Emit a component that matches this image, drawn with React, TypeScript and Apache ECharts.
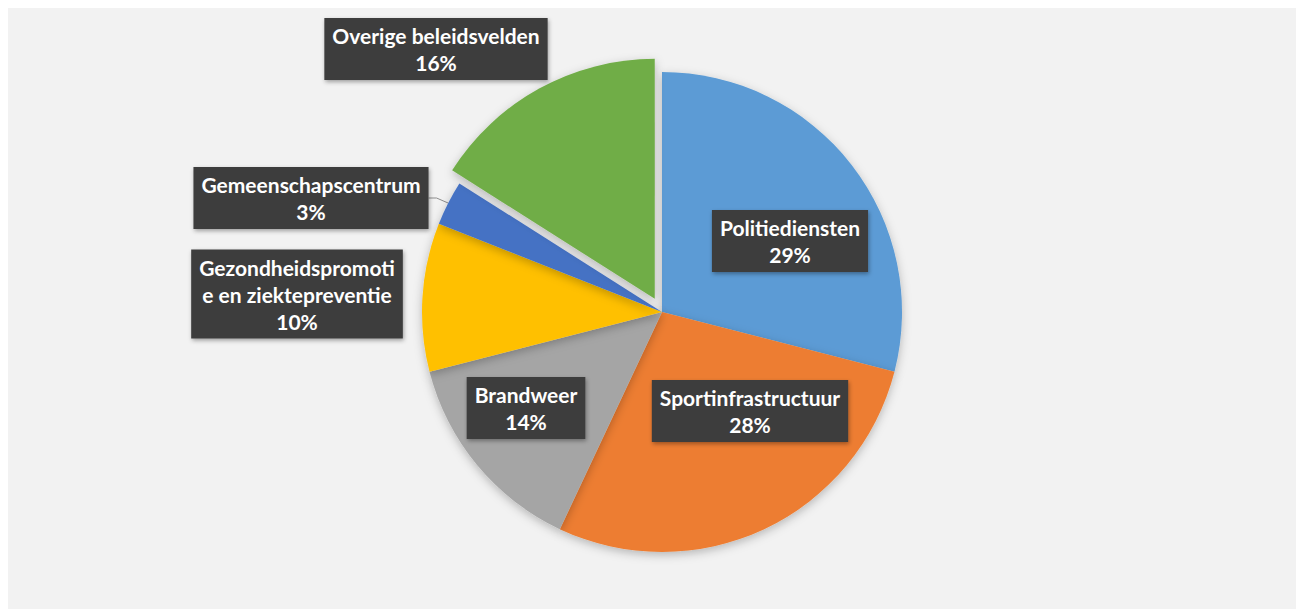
import React, { useEffect, useRef } from "react";
import * as echarts from "echarts";

const categories = [
  "Politiediensten",
  "Sportinfrastructuur",
  "Brandweer",
  "Gezondheidspromotie en ziektepreventie",
  "Gemeenschapscentrum",
  "Overige beleidsvelden",
];
const labelTexts = [
  "Politiediensten",
  "Sportinfrastructuur",
  "Brandweer",
  "Gezondheidspromoti\ne en ziektepreventie",
  "Gemeenschapscentrum",
  "Overige beleidsvelden",
];
const values = [29, 28, 14, 10, 3, 16];
const colors = ["#5b9bd5", "#ed7d31", "#a5a5a5", "#ffc000", "#4472c4", "#70ad47"];
const explodedIndex = 5;
const labelCenters = [
  [782, 233],
  [742, 403],
  [518, 400],
  [289, 286],
  [303, 190],
  [428, 41],
];

const CX = 654;
const CY = 304;
const R = 240;
const OFFSET = 15;

export default function App() {
  const ref = useRef<HTMLDivElement>(null);
  useEffect(() => {
    if (!ref.current) return;
    const chart = echarts.init(ref.current, null, { renderer: "svg" });
    const total = values.reduce((a, b) => a + b, 0);
    const before = values.slice(0, explodedIndex).reduce((a, b) => a + b, 0);
    const midFrac = (before + values[explodedIndex] / 2) / total;
    const ang = midFrac * Math.PI * 2;
    const dx = OFFSET * Math.sin(ang);
    const dy = -OFFSET * Math.cos(ang);

    const labelBase = {
      show: true,
      position: "outside",
      formatter: (p: any) => labelTexts[p.dataIndex] + "\n" + p.value + "%",
      color: "#ffffff",
      fontFamily: "Lato",
      fontWeight: "bold",
      fontSize: 21,
      lineHeight: 27,
      align: "center",
      backgroundColor: "#3d3d3d",
      padding: [4, 8, 4, 8],
      shadowBlur: 4,
      shadowOffsetX: 1,
      shadowOffsetY: 2,
      shadowColor: "rgba(0,0,0,0.35)",
    };
    const layout = (params: any) => {
      const c = labelCenters[params.dataIndex];
      return { x: c[0], y: c[1], align: "center", verticalAlign: "middle" };
    };
    const common = {
      type: "pie",
      radius: R,
      startAngle: 90,
      clockwise: true,
      selectedMode: false,
      emphasis: { disabled: true },
      labelLayout: layout,
    };

    chart.setOption({
      animation: false,
      backgroundColor: "#f2f2f2",
      series: [
        {
          ...common,
          center: [CX, CY],
          itemStyle: {
            borderWidth: 0,
            shadowBlur: 10,
            shadowOffsetY: 3,
            shadowColor: "rgba(0,0,0,0.25)",
          },
          label: labelBase,
          labelLine: { show: false },
          data: categories.map((name, i) => ({
            name,
            value: values[i],
            itemStyle:
              i === explodedIndex
                ? { color: "rgba(0,0,0,0)", shadowBlur: 0 }
                : { color: colors[i] },
            label: i === explodedIndex ? { show: false } : {},
            labelLine:
              i === 4
                ? { show: true, length: 8, length2: 8, lineStyle: { color: "#8c8c8c", width: 1 } }
                : { show: false },
          })),
        },
        {
          ...common,
          center: [CX + dx, CY + dy],
          label: labelBase,
          labelLine: { show: false },
          data: categories.map((name, i) => ({
            name,
            value: values[i],
            itemStyle:
              i === explodedIndex
                ? {
                    color: colors[i],
                    shadowBlur: 10,
                    shadowOffsetY: 3,
                    shadowColor: "rgba(0,0,0,0.25)",
                  }
                : { color: "rgba(0,0,0,0)" },
            label: i === explodedIndex ? {} : { show: false },
          })),
        },
      ],
    });
    return () => chart.dispose();
  }, []);
  return <div ref={ref} style={{ width: 1296, height: 601 }} />;
}
